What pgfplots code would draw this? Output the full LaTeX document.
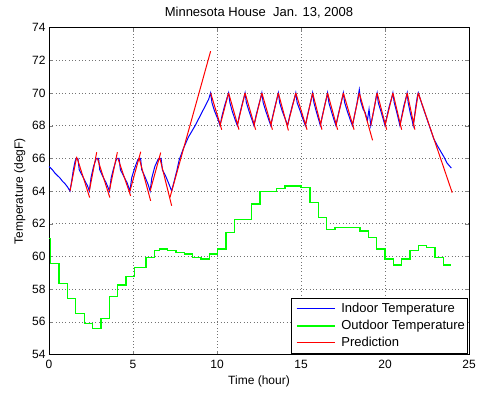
\documentclass[border=0pt]{standalone}
\usepackage{fontspec}
\setmainfont{Liberation Sans}
\usepackage{pgfplots}
\pgfplotsset{compat=1.18}
\definecolor{mblue}{RGB}{0,0,255}
\definecolor{mgreen}{RGB}{0,255,0}
\definecolor{mred}{RGB}{255,0,0}
\begin{document}
\begin{tikzpicture}[x=1pt,y=1pt]
\useasboundingbox (-49,-39.5) rectangle (429,354.5);
\begin{axis}[
  at={(0,0)}, anchor=south west,
  scale only axis, width=420pt, height=327pt,
  xmin=0, xmax=25, ymin=54, ymax=74,
  xtick={0,5,...,25}, ytick={54,56,...,74},
  tick align=inside, xtick pos=both, ytick pos=both,
  major tick length=4pt,
  grid=major,
  major grid style={black!55, dash pattern=on 0.6pt off 2.7pt, line width=0.5pt},
  axis line style={line width=0.6pt, black},
  font=\fontsize{12}{14}\selectfont,
  /pgf/number format/assume math mode=true,
  title={\fontsize{13}{15}\selectfont Minnesota House\ \ Jan. 13, 2008},
  xlabel={Time (hour)}, ylabel={Temperature (degF)},
  xticklabel style={yshift=-2pt},
  legend style={at={(0.997,0.004)}, anchor=south east, fill=white,
    font=\fontsize{13}{15}\selectfont, inner xsep=0.5pt, inner ysep=2.5pt,
    row sep=2.2pt, line width=0.6pt},
  legend cell align=left,
  legend image code/.code={\path (-4pt,0pt) (42pt,0pt); \draw[#1] (0pt,0pt) -- (38pt,0pt);},
  unbounded coords=jump,
]
% Indoor temperature
\addplot[color=mblue, line width=1pt] coordinates {
(0,65.5) (0.1,65.4) (0.2,65.3) (0.35,65.1) (0.5,64.95) (0.65,64.8) (0.8,64.6) (0.95,64.45) (1.1,64.25) (1.25,64.0)
(1.35,64.6) (1.45,65.3) (1.55,65.8) (1.62,66.0) (1.72,66.0)
(1.8,65.3) (1.9,65.1) (2.1,64.7) (2.3,64.3) (2.4,64.0)
(2.5,64.8) (2.65,65.5) (2.8,65.95) (2.87,66.0) (2.95,66.0)
(3.02,65.3) (3.2,64.9) (3.4,64.5) (3.6,64.0)
(3.7,64.8) (3.85,65.4) (4.0,65.9) (4.07,66.0) (4.17,66.0)
(4.25,65.3) (4.45,64.9) (4.65,64.5) (4.82,64.0)
(4.92,64.8) (5.1,65.4) (5.28,65.9) (5.35,66.0) (5.45,66.0)
(5.52,65.3) (5.7,64.9) (5.9,64.4) (6.02,64.0)
(6.12,64.8) (6.3,65.5) (6.5,65.95) (6.57,66.0) (6.67,66.0)
(6.75,65.3) (6.95,64.9) (7.15,64.4) (7.3,64.0)
(7.45,64.6) (7.6,65.2) (7.75,65.9) (8.0,66.6) (8.3,67.3) (8.7,68.0) (9.0,68.6) (9.3,69.2) (9.5,69.6) (9.62,70.0)
(9.7,69.4) (9.85,68.9) (10.05,68.4) (10.18,68.0)
(10.3,68.6) (10.45,69.2) (10.6,69.7) (10.69,70.0)
(10.77,69.4) (10.9,68.9) (11.1,68.3) (11.21,68.0)
(11.33,68.6) (11.47,69.2) (11.6,69.7) (11.67,70.0)
(11.75,69.4) (11.9,68.9) (12.1,68.3) (12.2,68.0)
(12.32,68.6) (12.47,69.2) (12.6,69.7) (12.67,70.0)
(12.75,69.4) (12.9,68.9) (13.1,68.3) (13.2,68.0)
(13.32,68.6) (13.46,69.2) (13.58,69.7) (13.65,70.0)
(13.73,69.4) (13.88,68.9) (14.1,68.3) (14.2,68.0)
(14.33,68.6) (14.48,69.2) (14.62,69.7) (14.69,70.0)
(14.77,69.4) (14.95,68.9) (15.15,68.3) (15.26,68.0)
(15.38,68.6) (15.52,69.2) (15.63,69.7) (15.69,70.0)
(15.77,69.4) (15.9,68.9) (16.07,68.3) (16.15,68.0)
(16.27,68.6) (16.4,69.2) (16.52,69.7) (16.58,70.0)
(16.66,69.4) (16.8,68.9) (16.98,68.3) (17.08,68.0)
(17.2,68.6) (17.34,69.2) (17.46,69.7) (17.52,70.0)
(17.6,69.4) (17.75,68.9) (17.95,68.3) (18.06,68.0)
(18.18,68.6) (18.32,69.3) (18.42,69.9) (18.47,70.2)
(18.55,69.5) (18.7,69.0) (18.82,68.8) (18.95,68.3) (19.05,69.0) (19.15,68.0)
(19.27,68.6) (19.4,69.3) (19.48,69.8) (19.53,70.0)
(19.6,69.4) (19.75,68.9) (19.92,68.3) (20.0,68.0)
(20.12,68.6) (20.26,69.2) (20.4,69.7) (20.47,70.0)
(20.55,69.4) (20.68,68.9) (20.82,68.3) (20.89,68.0)
(21.0,68.6) (21.12,69.2) (21.25,69.7) (21.32,70.0)
(21.38,69.4) (21.5,68.8) (21.62,68.3) (21.68,68.0)
(21.76,68.6) (21.85,69.3) (21.93,69.8) (21.98,70.0)
(22.2,69.3) (22.45,68.55) (22.7,67.8) (22.9,67.2) (23.1,66.8) (23.3,66.45) (23.5,66.1) (23.7,65.7) (23.95,65.4)
};
\addlegendentry{Indoor Temperature}
% Outdoor temperature
\addplot[color=mgreen, line width=1.4pt, const plot] coordinates {
(0,61.1) (0.08,59.58) (0.6,58.35) (1.09,57.44) (1.59,56.52) (2.1,55.9) (2.6,55.6)
(3.1,56.2) (3.59,57.54) (4.09,58.25) (4.58,58.76) (5.08,59.33) (5.77,59.94)
(6.27,60.35) (6.57,60.45) (7.06,60.35) (7.56,60.25) (8.05,60.15) (8.55,59.94)
(9.05,59.84) (9.54,60.15) (10.04,60.45) (10.54,61.47) (11.03,62.27) (12.06,63.2)
(12.56,63.96) (13.55,64.16) (14.05,64.3) (15.0,64.2) (15.54,63.28) (16.03,62.37)
(16.53,61.65) (17.02,61.76) (18.5,61.55) (19.0,61.17) (19.5,60.45) (20.0,59.84)
(20.5,59.47) (20.99,59.84) (21.49,60.35) (21.98,60.65) (22.48,60.55) (22.98,59.94)
(23.47,59.47) (23.9,59.47)
};
\addlegendentry{Outdoor Temperature}
% Prediction
\addplot[color=mred, line width=1pt] coordinates {
(1.25,64) (1.65,66.1) (1.65,nan)
(1.68,66) (2.42,63.6) (2.42,nan)
(2.4,64) (2.84,66.37) (2.84,nan)
(2.88,66) (3.62,63.6) (3.62,nan)
(3.59,64) (4.07,66.37) (4.07,nan)
(4.1,66) (4.86,63.7) (4.86,nan)
(4.82,64) (5.46,66.4) (5.46,nan)
(5.37,66) (6.05,63.4) (6.05,nan)
(6.02,64) (6.65,66.35) (6.65,nan)
(6.6,66) (7.3,63.1) (7.3,nan)
(7.2,63.6) (9.62,72.55) (9.62,nan)
(9.62,70) (10.28,67.75) (10.28,nan)
(10.18,68) (10.69,70) (10.69,nan)
(10.69,70) (11.31,67.75) (11.31,nan)
(11.21,68) (11.67,70) (11.67,nan)
(11.67,70) (12.3,67.75) (12.3,nan)
(12.2,68) (12.67,70) (12.67,nan)
(12.67,70) (13.3,67.75) (13.3,nan)
(13.2,68) (13.65,70) (13.65,nan)
(13.65,70) (14.25,67.7) (14.25,nan)
(14.2,68) (14.69,70) (14.69,nan)
(14.69,70) (15.36,67.75) (15.36,nan)
(15.26,68) (15.69,70) (15.69,nan)
(15.69,70) (16.25,67.75) (16.25,nan)
(16.15,68) (16.58,70) (16.58,nan)
(16.58,70) (17.18,67.75) (17.18,nan)
(17.08,68) (17.52,70) (17.52,nan)
(17.52,70) (18.16,67.75) (18.16,nan)
(18.06,68) (18.47,70) (18.47,nan)
(18.47,70) (19.26,67.1) (19.26,nan)
(19.15,68) (19.53,70) (19.53,nan)
(19.53,70) (20.1,67.75) (20.1,nan)
(20.0,68) (20.47,70) (20.47,nan)
(20.47,70) (20.99,67.75) (20.99,nan)
(20.89,68) (21.32,70) (21.32,nan)
(21.32,70) (21.78,67.75) (21.78,nan)
(21.68,68) (21.98,70) (21.98,nan)
(21.98,70) (24.0,63.9)
};
\addlegendentry{Prediction}
\end{axis}
\end{tikzpicture}
\end{document}
